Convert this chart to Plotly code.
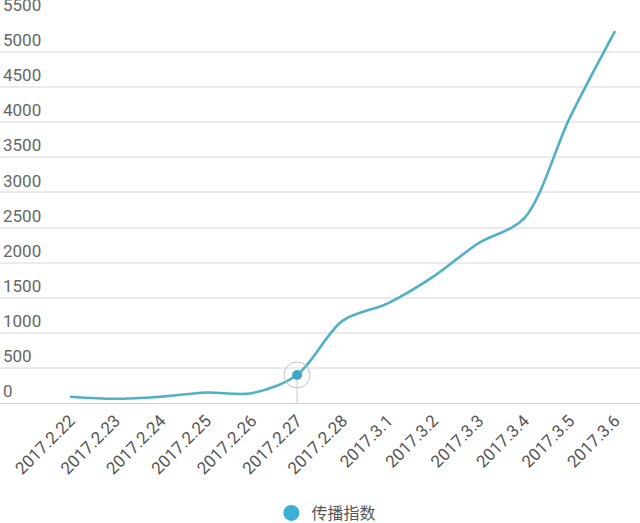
import plotly.graph_objects as go

categories = ["2017.2.22", "2017.2.23", "2017.2.24", "2017.2.25", "2017.2.26",
              "2017.2.27", "2017.2.28", "2017.3.1", "2017.3.2", "2017.3.3",
              "2017.3.4", "2017.3.5", "2017.3.6"]
values = [90, 60, 90, 150, 140, 400, 1170, 1420, 1800, 2280, 2630, 4060, 5300]
series_name = "传播指数"
highlight_index = 5
y_ticks = [0, 500, 1000, 1500, 2000, 2500, 3000, 3500, 4000, 4500, 5000, 5500]

line_color = "#4fb0c6"
font_family = "Roboto, 'Noto Sans CJK SC', sans-serif"

fig = go.Figure()

fig.add_trace(go.Scatter(
    x=categories, y=values, mode="lines",
    line=dict(color=line_color, width=2.6, shape="spline", smoothing=0.9),
    showlegend=False, hoverinfo="skip"))

hx = categories[highlight_index]
hy = values[highlight_index]
fig.add_trace(go.Scatter(
    x=[hx, hx], y=[0, hy], mode="lines",
    line=dict(color="#c8c8c8", width=1), showlegend=False, hoverinfo="skip"))
fig.add_trace(go.Scatter(
    x=[hx], y=[hy], mode="markers",
    marker=dict(size=26, color="rgba(255,255,255,0)", line=dict(color="#c4c4c4", width=1)),
    showlegend=False, hoverinfo="skip"))
fig.add_trace(go.Scatter(
    x=[hx], y=[hy], mode="markers",
    marker=dict(size=10, color="#3ea8c4"),
    showlegend=False, hoverinfo="skip"))

fig.add_trace(go.Scatter(
    x=[None], y=[None], mode="markers", name=series_name,
    marker=dict(size=18, color="#3bb0d6")))

fig.update_layout(
    width=640, height=523,
    margin=dict(l=0, r=0, t=17, b=120, autoexpand=False),
    paper_bgcolor="white", plot_bgcolor="white",
    font=dict(family=font_family, color="#555555"),
    showlegend=True,
    legend=dict(orientation="h", x=0.51, xanchor="center",
                yref="container", y=0.019, yanchor="middle",
                font=dict(size=16, color="#555555"), itemsizing="trace"),
    xaxis=dict(
        type="category", range=[-1.54, 12.55],
        tickmode="array", tickvals=categories, ticktext=categories,
        tickangle=-45, tickfont=dict(size=17, color="#555555"),
        showgrid=False, showline=True, linecolor="#d0d0d0", linewidth=1,
        ticks="", ticklen=4, zeroline=False, fixedrange=True, automargin=False),
    yaxis=dict(
        range=[0, 5500], tickmode="array", tickvals=y_ticks,
        ticklabelposition="inside top", ticklabeloverflow="allow",
        tickfont=dict(size=17, color="#666666"),
        showgrid=True, gridcolor="#ebebeb", gridwidth=1.5,
        zeroline=False, showline=False, ticks="", fixedrange=True, automargin=False),
)

fig.write_html("out.html")
